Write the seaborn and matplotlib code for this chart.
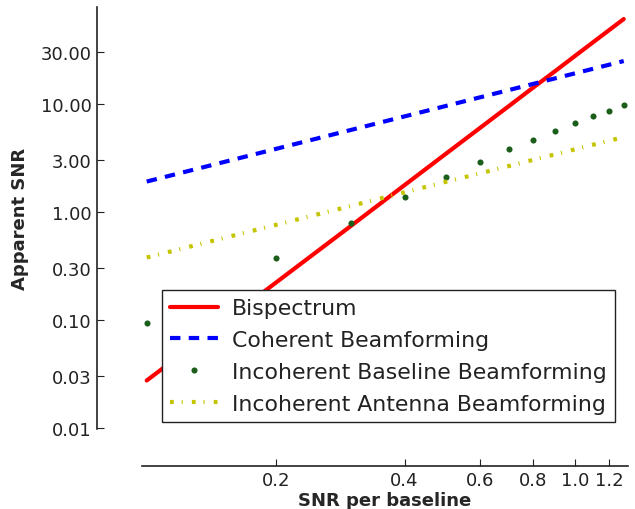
import numpy as np
import pandas as pd
import matplotlib
matplotlib.use("Agg")
import matplotlib.pyplot as plt
import seaborn as sns
from matplotlib.ticker import FixedLocator, FixedFormatter, NullLocator

# ---- data ----
snr = [0.1, 0.2, 0.3, 0.4, 0.5, 0.6, 0.7, 0.8, 0.9, 1.0, 1.1, 1.2, 1.3]
bispectrum = [0.0275, 0.22, 0.74, 1.76, 3.44, 5.94, 9.43, 14.1, 20.0, 27.5, 36.6, 47.5, 60.4]
coherent = [1.9, 3.8, 5.7, 7.6, 9.5, 11.4, 13.3, 15.2, 17.1, 19.0, 20.9, 22.8, 24.7]
incoherent_baseline = [0.093, 0.37, 0.79, 1.38, 2.09, 2.90, 3.77, 4.63, 5.60, 6.59, 7.59, 8.57, 9.59]
incoherent_antenna = [0.377, 0.754, 1.13, 1.51, 1.89, 2.26, 2.64, 3.02, 3.39, 3.77, 4.15, 4.52, 4.90]

labels = ["Bispectrum", "Coherent Beamforming",
          "Incoherent Baseline Beamforming", "Incoherent Antenna Beamforming"]
xticks = [0.2, 0.4, 0.6, 0.8, 1.0, 1.2]
xticklabels = ["0.2", "0.4", "0.6", "0.8", "1.0", "1.2"]
yticks = [0.01, 0.03, 0.10, 0.30, 1.00, 3.00, 10.00, 30.00]
yticklabels = ["0.01", "0.03", "0.10", "0.30", "1.00", "3.00", "10.00", "30.00"]

df = pd.DataFrame({"snr": snr, "bis": bispectrum, "coh": coherent,
                   "ibl": incoherent_baseline, "ian": incoherent_antenna})

sns.set_theme(style="white")
plt.rcParams["font.family"] = ["DejaVu Sans"]

fig = plt.figure(figsize=(6.35, 5.10), dpi=100)
ax = fig.add_axes([142/635, 1-430/510, (628-142)/635, (430-8)/510])

sns.lineplot(data=df, x="snr", y="bis", ax=ax, color="#ff0000", lw=3.0,
             label=labels[0])
sns.lineplot(data=df, x="snr", y="coh", ax=ax, color="#0000ff", lw=3.0,
             label=labels[1])
ax.lines[-1].set_dashes((2.5, 2.0))
sns.lineplot(data=df, x="snr", y="ibl", ax=ax, color="#1a5e1a", lw=0,
             marker="o", markersize=4.4, markeredgewidth=0, label=labels[2])
sns.lineplot(data=df, x="snr", y="ian", ax=ax, color="#c4c400", lw=3.0,
             label=labels[3])
ax.lines[-1].set_dashes((0.9, 1.9, 0.25, 2.2))

ax.set_xscale("log")
ax.set_yscale("log")
ax.set_xlim(0.0975, 1.33)
ax.set_ylim(0.0098, 78)

ax.xaxis.set_major_locator(FixedLocator(xticks))
ax.xaxis.set_major_formatter(FixedFormatter(xticklabels))
ax.xaxis.set_minor_locator(NullLocator())
ax.yaxis.set_major_locator(FixedLocator(yticks))
ax.yaxis.set_major_formatter(FixedFormatter(yticklabels))
ax.yaxis.set_minor_locator(NullLocator())

ax.tick_params(axis="both", which="major", direction="in", length=5, width=0.8,
               labelsize=13, colors="#222222", pad=4, left=True, bottom=True)

for side in ["top", "right"]:
    ax.spines[side].set_visible(False)
ax.spines["left"].set_position(("outward", 32.4))
ax.spines["bottom"].set_position(("outward", 26.6))
for side in ["left", "bottom"]:
    ax.spines[side].set_color("#222222")
    ax.spines[side].set_linewidth(1.2)

ax.set_xlabel("SNR per baseline", fontsize=13, fontweight="bold", labelpad=1)
ax.set_ylabel("Apparent SNR", fontsize=13, fontweight="bold", labelpad=8)

leg = ax.legend(loc="upper left", bbox_to_anchor=(0.041, 0.329), borderaxespad=0,
                fontsize=15.8, frameon=True, fancybox=False, shadow=False,
                handlelength=2.2, labelspacing=0.54, borderpad=0.37,
                handletextpad=0.63)
leg.get_frame().set_edgecolor("#222222")
leg.get_frame().set_linewidth(1.0)
leg.get_frame().set_alpha(1)
for t in leg.get_texts():
    t.set_color("#222222")

fig.savefig("out.png", dpi=100)
